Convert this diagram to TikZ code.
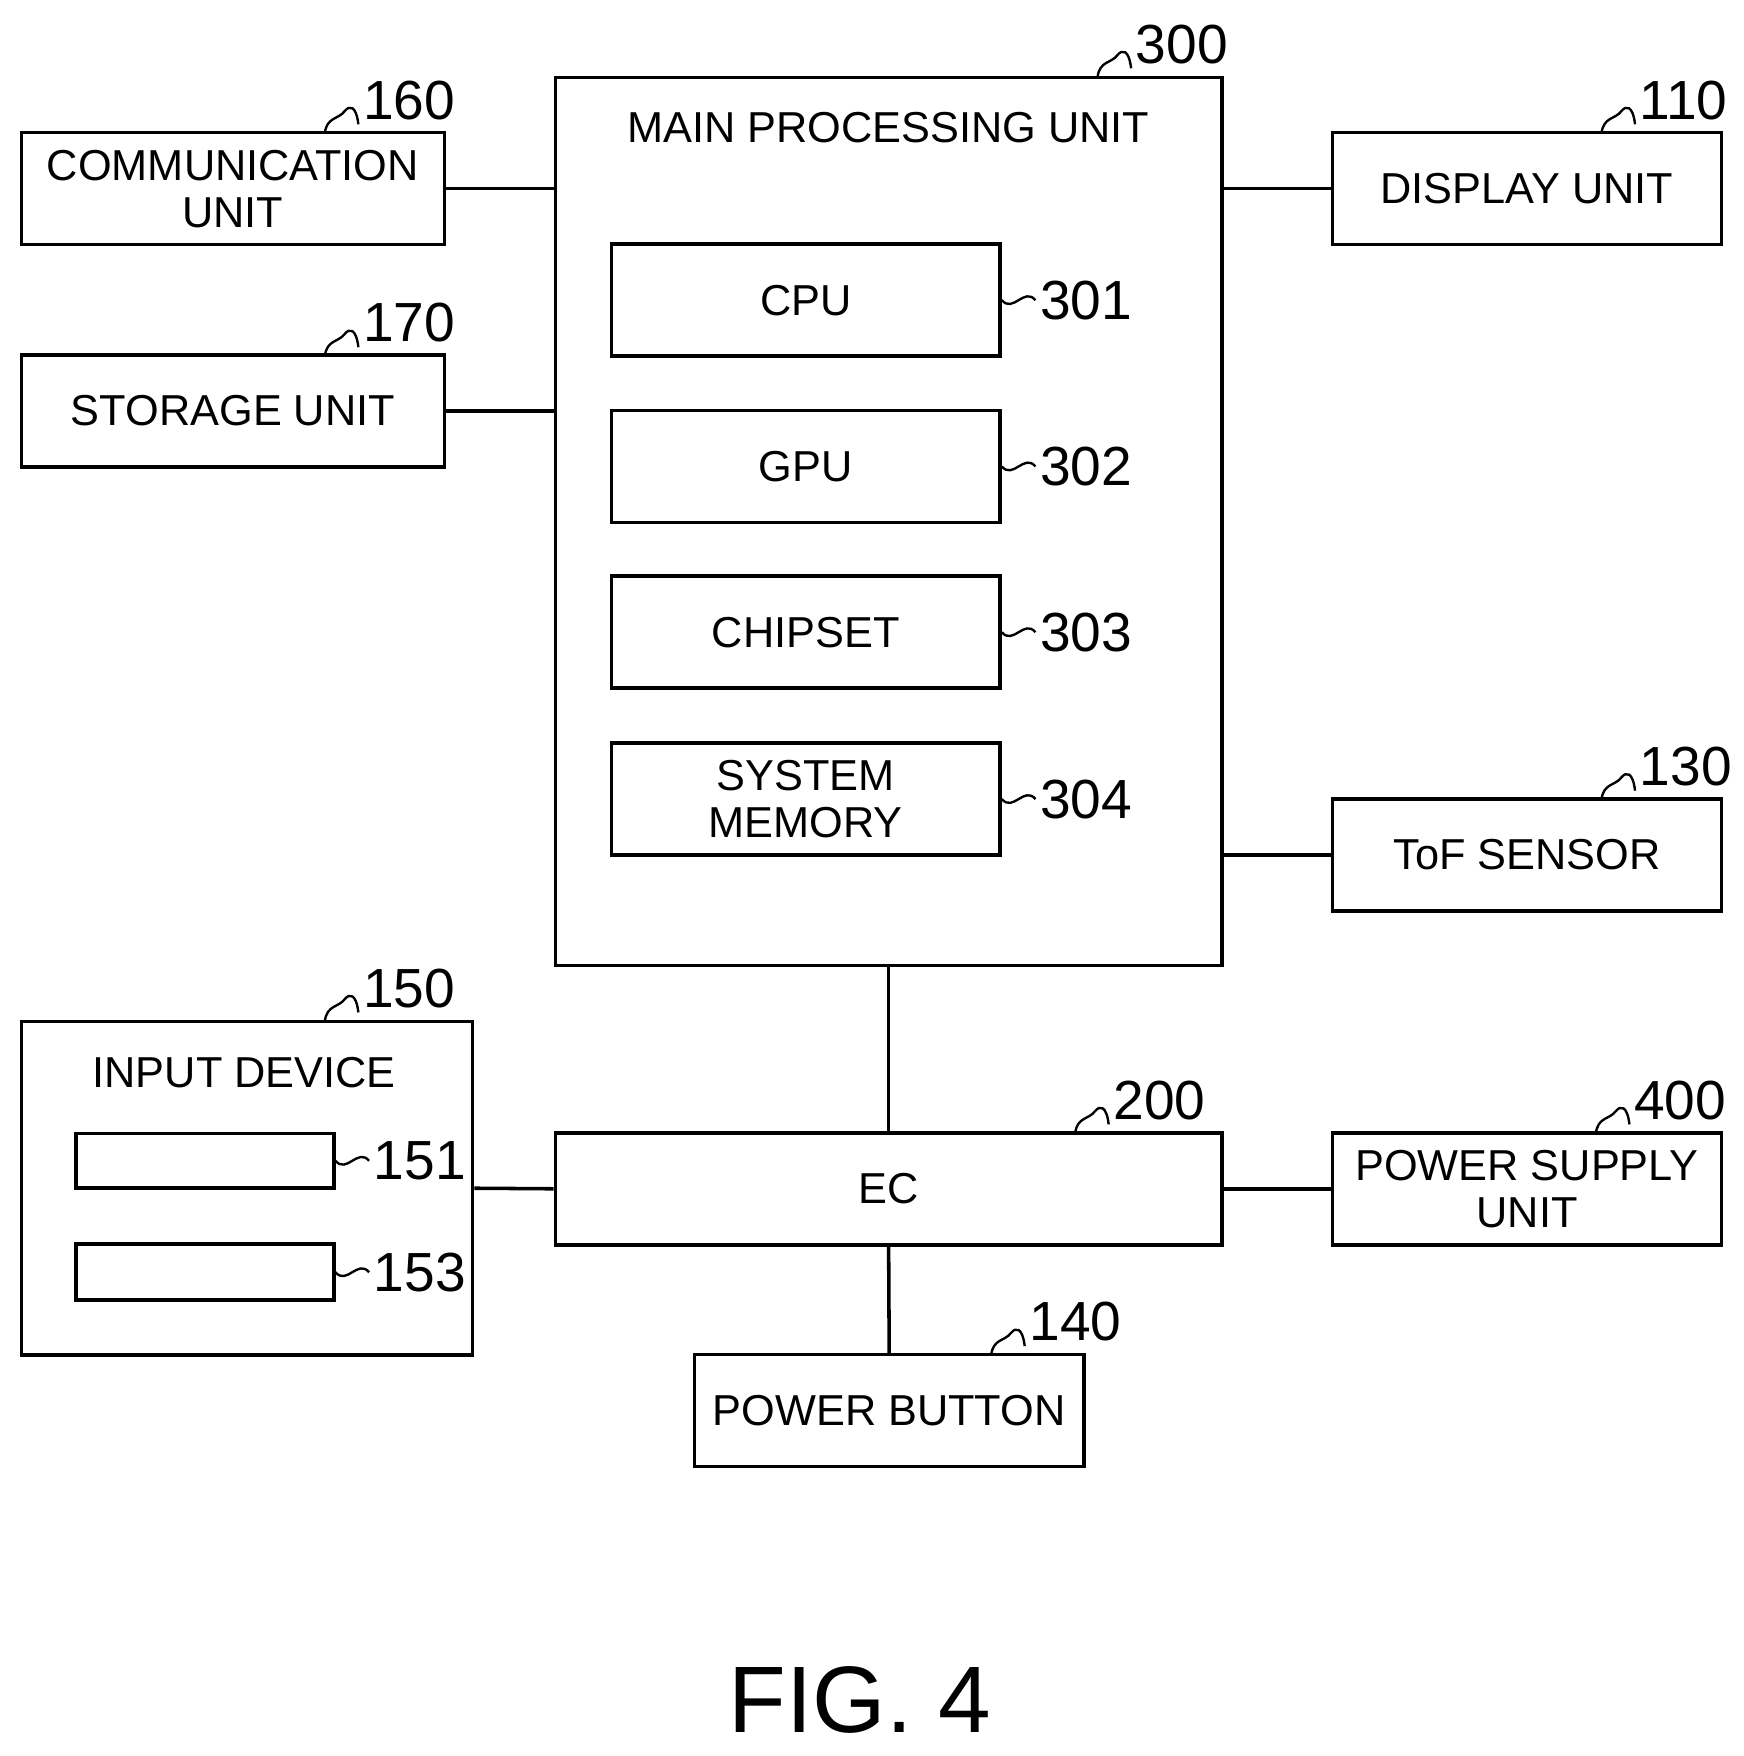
\documentclass[tikz,border=0pt]{standalone}
\usepackage{fontspec}
\setmainfont{Liberation Sans}
\usetikzlibrary{positioning}
\begin{document}
\begin{tikzpicture}[x=0.1mm,y=-0.1mm,
blocknode/.style={rectangle, draw=black, line width=0.9pt, font=\fontsize{11}{12}\selectfont, align=center, inner sep=0pt},
numnode/.style={font=\fontsize{14}{14}\selectfont, inner sep=1pt, anchor=south west},
squiggle/.style={line width=0.6pt},
]
\useasboundingbox (0,0) rectangle (1557,1568);
%Nodes
\node[blocknode, minimum width=59.5mm, minimum height=79.3mm] (main_node) at (793.5,465.5) {};
\node[font=\fontsize{11}{12}\selectfont] (main_title) at (793,114) {MAIN PROCESSING UNIT};
\node[blocknode, minimum width=34.7mm, minimum height=10mm] (cpu_node) at (719.5,268) {CPU};
\node[blocknode, minimum width=34.7mm, minimum height=10mm] (gpu_node) at (719.5,416.5) {GPU};
\node[blocknode, minimum width=34.7mm, minimum height=10mm] (chipset_node) at (719.5,564.5) {CHIPSET};
\node[blocknode, minimum width=34.7mm, minimum height=10mm] (memory_node) at (719.5,713.5) {SYSTEM\\MEMORY};
\node[blocknode, minimum width=37.8mm, minimum height=10mm] (comm_node) at (208,168.5) {COMMUNICATION\\UNIT};
\node[blocknode, minimum width=37.8mm, minimum height=10mm] (storage_node) at (208,367) {STORAGE UNIT};
\node[blocknode, minimum width=34.7mm, minimum height=10mm] (display_node) at (1363.5,168.5) {DISPLAY UNIT};
\node[blocknode, minimum width=34.7mm, minimum height=10mm] (tof_node) at (1363.5,763.5) {ToF SENSOR};
\node[blocknode, minimum width=40.3mm, minimum height=29.8mm] (input_node) at (220.5,1061) {};
\node[font=\fontsize{11}{12}\selectfont] (input_title) at (218,958) {INPUT DEVICE};
\node[blocknode, minimum width=23mm, minimum height=4.9mm] (key_node) at (183,1036.5) {};
\node[blocknode, minimum width=23mm, minimum height=5mm] (pad_node) at (183,1136) {};
\node[blocknode, minimum width=59.5mm, minimum height=10mm] (ec_node) at (793.5,1061.5) {EC};
\node[blocknode, minimum width=34.7mm, minimum height=10mm] (psu_node) at (1363.5,1061.5) {POWER SUPPLY\\UNIT};
\node[blocknode, minimum width=34.8mm, minimum height=10mm] (button_node) at (794,1259.5) {POWER BUTTON};
\node[font=\fontsize{24}{24}\selectfont] (fig_label) at (768,1518) {FIG. 4};

%Lines
\draw[line width=0.9pt] (comm_node.east) -- (comm_node.east -| main_node.west);
\draw[line width=0.9pt] (storage_node.east) -- (storage_node.east -| main_node.west);
\draw[line width=0.9pt] (display_node.west) -- (display_node.west -| main_node.east);
\draw[line width=0.9pt] (tof_node.west) -- (tof_node.west -| main_node.east);
\draw[line width=0.9pt] (main_node.south) -- (ec_node.north);
\draw[line width=0.9pt] (ec_node.west) -- (input_node.east);
\draw[line width=0.9pt] (ec_node.east) -- (psu_node.west);
\draw[line width=0.9pt] (ec_node.south) -- (button_node.north);

%Reference numbers
\foreach \name/\num/\px/\py in {main/300/980/69, comm/160/290/119, storage/170/290/318, display/110/1430/119,
  tof/130/1430/714, input/150/290/912, ec/200/960/1012, psu/400/1425/1012, button/140/885/1210}{
  \coordinate (\name_tip) at (\px,\py);
  \node[numnode] (\name_num) at (\px+30,\py-8) {\num};
  \draw[squiggle] (\name_tip) .. controls (\px+2,\py-15) and (\px+12,\py-12) .. (\px+18,\py-20)
    .. controls (\px+22,\py-25) and (\px+28,\py-25) .. (\name_num.south west);
}
\foreach \name/\num in {cpu/301, gpu/302, chipset/303, memory/304, key/151, pad/153}{
  \node[numnode, anchor=west] (\name_num) at ([xshift=3mm]\name_node.east) {\num};
  \draw[squiggle] (\name_node.east) .. controls +(1mm,-1.2mm) and +(-1mm,1.2mm) .. (\name_num.west);
}
\end{tikzpicture}
\end{document}
